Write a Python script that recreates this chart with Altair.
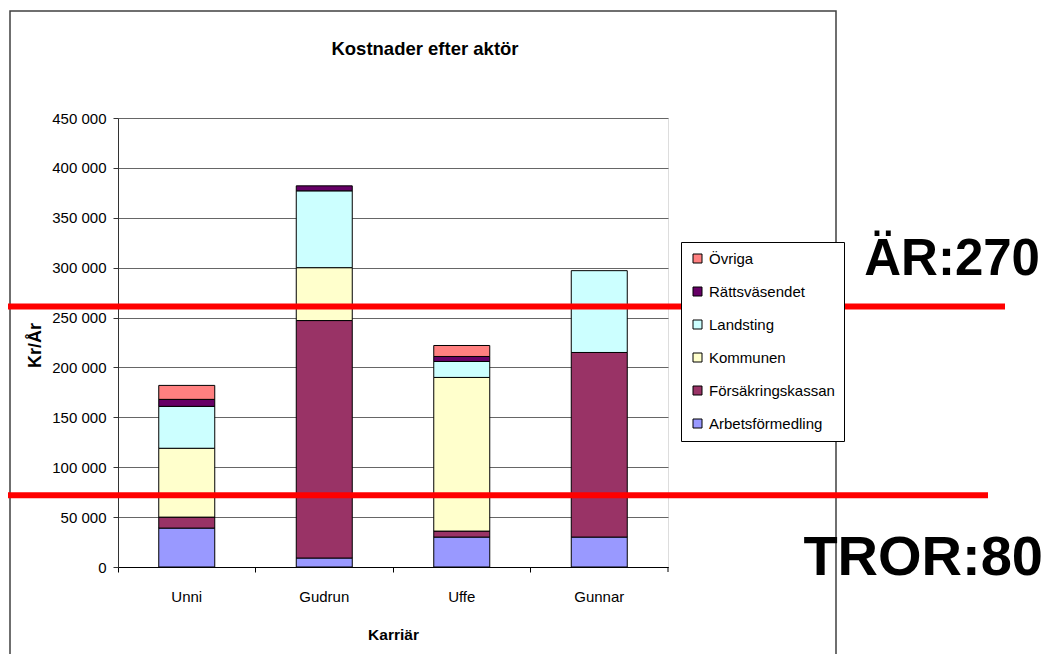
import altair as alt
import pandas as pd

people = ["Unni", "Gudrun", "Uffe", "Gunnar"]
actors = ["Arbetsförmedling", "Försäkringskassan", "Kommunen", "Landsting", "Rättsväsendet", "Övriga"]
colors = ["#9999FF", "#993366", "#FFFFCC", "#CCFFFF", "#660066", "#FF8080"]

arbetsformedling = [39000, 9000, 30000, 30000]
forsakringskassan = [11000, 238000, 6000, 185000]
kommunen = [69000, 53000, 154000, 0]
landsting = [42000, 77000, 16000, 82000]
rattsvasendet = [7000, 5000, 5000, 0]
ovriga = [14000, 0, 11000, 0]

y_ticks = [0, 50000, 100000, 150000, 200000, 250000, 300000, 350000, 400000, 450000]
marker_values = [261000, 72000]
marker_texts = ["ÄR:270", "TROR:80"]

series = [arbetsformedling, forsakringskassan, kommunen, landsting, rattsvasendet, ovriga]
rows = []
for i, (a, vals) in enumerate(zip(actors, series)):
    for p, v in zip(people, vals):
        if v > 0:
            rows.append({"person": p, "actor": a, "idx": i, "value": v})
df = pd.DataFrame(rows)

FONT = "Liberation Sans, Arial"

bars = alt.Chart(df).mark_bar(size=56, stroke="black", strokeWidth=1).encode(
    x=alt.X(
        "person:N", sort=people, title="Karriär",
        scale=alt.Scale(paddingInner=0, paddingOuter=0),
        axis=alt.Axis(
            bandPosition=0, labelAngle=0, labelFont=FONT, labelFontSize=15,
            labelColor="black", labelPadding=17, tickSize=5, tickColor="black",
            domainColor="black", grid=False, titleFont=FONT, titleFontSize=15.5,
            titleFontWeight="bold", titleColor="black", titleY=72,
            titleBaseline="alphabetic",
        ),
    ),
    y=alt.Y(
        "value:Q", stack="zero", title="Kr/År",
        scale=alt.Scale(domain=[0, 450000], nice=False),
        axis=alt.Axis(
            values=y_ticks, labelExpr="replace(format(datum.value, ','), ',', ' ')",
            labelFont=FONT, labelFontSize=15, labelColor="black", labelPadding=7,
            tickSize=5, tickColor="#333", domainColor="#333", grid=True,
            gridColor="#666", gridWidth=1, titleFont=FONT, titleFontSize=18,
            titleFontWeight="bold", titleColor="black", titleX=-83, titleY=227,
            titleAngle=270, titleAlign="center", titleBaseline="middle",
        ),
    ),
    color=alt.Color(
        "actor:N", title=None,
        scale=alt.Scale(domain=actors[::-1], range=colors[::-1]),
        legend=alt.Legend(
            orient="none", legendX=563, legendY=124, strokeColor="black",
            fillColor="white", padding=9, rowPadding=17, symbolType="square",
            symbolSize=81, symbolStrokeColor="black", symbolStrokeWidth=1,
            labelFont=FONT, labelFontSize=15, labelColor="black", labelLimit=250,
            labelOffset=4,
        ),
    ),
    order=alt.Order("idx:Q", sort="ascending"),
)

frame = alt.Chart(pd.DataFrame({"a": [0]})).mark_rect(
    fill=None, stroke="#404040", strokeWidth=1.5
).encode(
    x=alt.value(-108), x2=alt.value(718), y=alt.value(-107), y2=alt.value(560)
)

end_tick = alt.Chart(pd.DataFrame({"a": [0]})).mark_rule(
    color="black", strokeWidth=1
).encode(x=alt.value(550), y=alt.value(449), y2=alt.value(454))

rule1 = alt.Chart(pd.DataFrame({"v": [marker_values[0]]})).mark_rule(
    color="#FF0000", strokeWidth=6
).encode(y="v:Q", x=alt.value(-113), x2=alt.value(887))

rule2 = alt.Chart(pd.DataFrame({"v": [marker_values[1]]})).mark_rule(
    color="#FF0000", strokeWidth=6
).encode(y="v:Q", x=alt.value(-113), x2=alt.value(870))

text1 = alt.Chart(pd.DataFrame({"t": [marker_texts[0]]})).mark_text(
    font=FONT, fontSize=51, fontWeight="bold", align="right", baseline="alphabetic", color="black"
).encode(text="t:N", x=alt.value(922), y=alt.value(157))

text2 = alt.Chart(pd.DataFrame({"t": [marker_texts[1]]})).mark_text(
    font=FONT, fontSize=56, fontWeight="bold", align="right", baseline="alphabetic", color="black"
).encode(text="t:N", x=alt.value(925), y=alt.value(457))

chart = alt.layer(frame, bars, end_tick, rule1, rule2, text1, text2).properties(
    width=550, height=449,
    title=alt.TitleParams(
        "Kostnader efter aktör", font=FONT, fontSize=18.5, fontWeight="bold",
        color="black", anchor="middle", dx=32, offset=-63, baseline="alphabetic",
    ),
    autosize=alt.AutoSizeParams(type="none"),
    padding={"left": 110, "top": 110, "right": 375, "bottom": 87},
).configure_view(stroke="#888", strokeWidth=1).configure(background="white")

chart.save("out.html", embed_options={"renderer": "svg", "actions": False})
